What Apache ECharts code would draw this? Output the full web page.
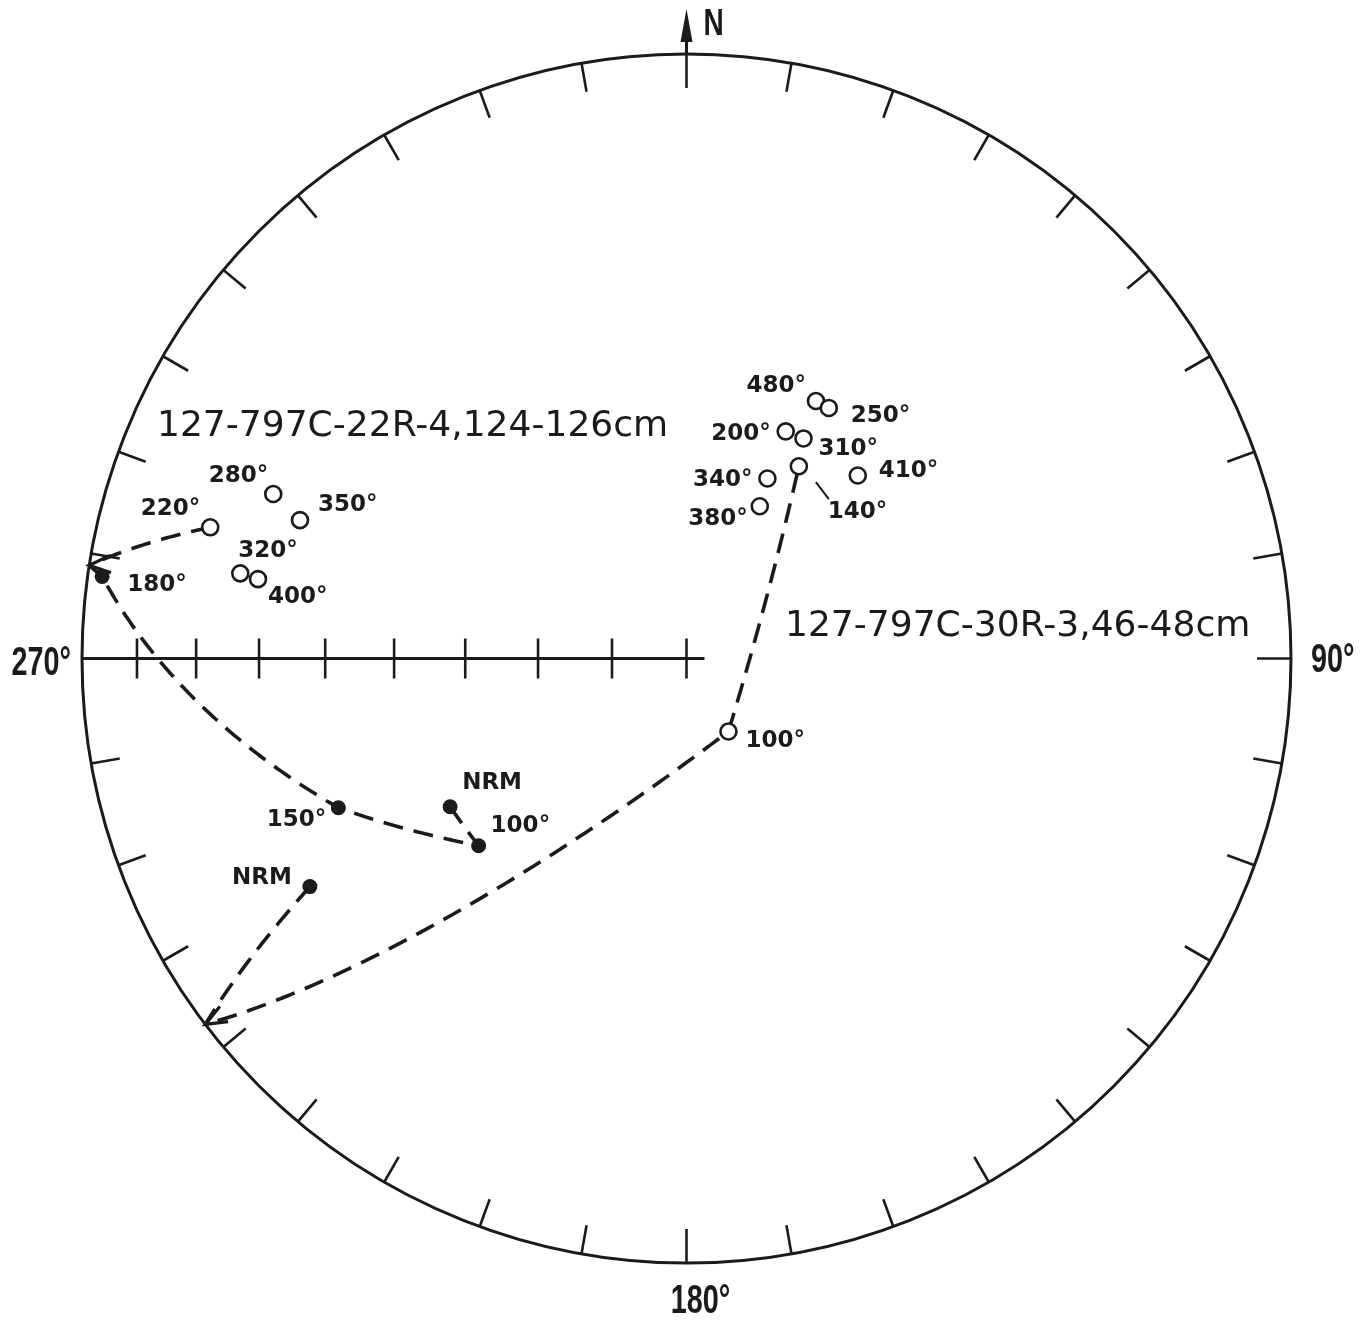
<!DOCTYPE html>
<html>
<head>
<meta charset="utf-8">
<script src="https://cdn.jsdelivr.net/npm/echarts@6/dist/echarts.min.js"></script>
<style>
  html, body { margin: 0; padding: 0; background: #fff; }
  #chart { width: 1369px; height: 1322px; }
</style>
</head>
<body>
<div id="chart"></div>
<script>
// demagnetisation steps, declination / inclination (deg), negative inc = upper hemisphere
var stepsA = ['NRM', '100°', '150°', '180°', '220°', '280°', '350°', '320°', '400°'];
var decA = [237.9, 228.0, 246.8, 278.0, 285.4, 291.7, 289.7, 280.8, 280.5];
var incA = [51.9, 51.8, 37.4, 2.7, -19.4, -27.3, -32.6, -25.8, -28.7];
var pathA = [0, 1, 2, 3, 4];

var stepsB = ['NRM', '100°', '140°', '200°', '310°', '480°', '250°', '340°', '380°', '410°'];
var decB = [238.8, 150.1, 30.3, 23.6, 28.0, 26.7, 29.6, 24.2, 25.7, 43.1];
var incB = [28.0, -78.7, -59.8, -56.3, -56.1, -50.6, -50.6, -63.3, -67.2, -55.9];
var pathB = [0, 1, 2];

var titleA = '127-797C-22R-4,124-126cm';
var titleB = '127-797C-30R-3,46-48cm';

// net ticks
var decTicks = [];
for (var d = 0; d < 360; d += 10) decTicks.push(d);
var incTicks = [10, 20, 30, 40, 50, 60, 70, 80, 90];
var cardDec = [0, 90, 180, 270];
var cardText = ['N', '90°', '180°', '270°'];

// label placement (pixel offsets from the point, text alignment)
var labelPosA = [[12, -24, 'left'], [12, -20, 'left'], [-12, 12, 'right'], [25, 9, 'left'], [-10, -18, 'right'],
                 [-5, -18, 'right'], [18, -15, 'left'], [-2, -22, 'left'], [10, 18, 'left']];
var labelPosB = [[-18, -9, 'right'], [17, 10, 'left'], [29, 46, 'left'], [-15, 3, 'right'], [15, 11, 'left'],
                 [-10, -15, 'right'], [22, 8, 'left'], [-15, 2, 'right'], [-12, 13, 'right'], [21, -4, 'left']];
var leaderB = [null, null, [17, 16, 30, 33], null, null, null, null, null, null, null];

var INK = '#1b1b1b';
var LABEL_FONT = 'bold 23px "DejaVu Sans", sans-serif';
var CARD_FONT = 'bold 40px "Liberation Sans", sans-serif';
var TITLE_FONT = '35px "DejaVu Sans", sans-serif';
var RAD = Math.PI / 180;

// N, E, Down unit vector
function toVec(dec, inc) {
  return [Math.cos(inc * RAD) * Math.cos(dec * RAD), Math.cos(inc * RAD) * Math.sin(dec * RAD), Math.sin(inc * RAD)];
}
// equal-area (Schmidt) projection, x = east, y = north
function project(v) {
  var n = Math.sqrt(v[0] * v[0] + v[1] * v[1] + v[2] * v[2]);
  var h = Math.sqrt(v[0] * v[0] + v[1] * v[1]);
  if (h < 1e-9) return [0, 0];
  var r = Math.sqrt(Math.max(0, 1 - Math.abs(v[2] / n)));
  return [r * v[1] / h, r * v[0] / h];
}
function projDI(dec, inc) { return project(toVec(dec, inc)); }
function slerp(a, b, t) {
  var dot = a[0] * b[0] + a[1] * b[1] + a[2] * b[2];
  var om = Math.acos(Math.max(-1, Math.min(1, dot)));
  if (om < 1e-6) return a.slice();
  var s = Math.sin(om), k1 = Math.sin((1 - t) * om) / s, k2 = Math.sin(t * om) / s;
  return [a[0] * k1 + b[0] * k2, a[1] * k1 + b[1] * k2, a[2] * k1 + b[2] * k2];
}

// great circle arcs between consecutive steps
function buildPath(decs, incs, order) {
  var pts = [], cross = [], n = 80;
  for (var k = 0; k < order.length - 1; k++) {
    var a = toVec(decs[order[k]], incs[order[k]]);
    var b = toVec(decs[order[k + 1]], incs[order[k + 1]]);
    var prev = null;
    for (var s = 0; s <= n; s++) {
      var v = slerp(a, b, s / n);
      if (prev && prev[2] * v[2] < 0) {
        var f = prev[2] / (prev[2] - v[2]);
        cross.push(pts.length);
        pts.push(project([prev[0] + (v[0] - prev[0]) * f, prev[1] + (v[1] - prev[1]) * f, 0]));
      }
      if (s > 0 || k === 0) pts.push(project(v));
      prev = v;
    }
  }
  return { pts: pts, cross: cross };
}

function arrowData(path) {
  return path.cross.map(function (i) {
    var tip = path.pts[i];
    function walk(step) {
      var j = i;
      while (j + step >= 0 && j + step < path.pts.length) {
        j += step;
        var q = path.pts[j];
        if (Math.hypot(q[0] - tip[0], q[1] - tip[1]) > 0.04) break;
      }
      return path.pts[j];
    }
    var lo = walk(-1), up = walk(1);
    return [tip[0], tip[1], lo[0], lo[1], up[0], up[1]];
  });
}

var pA = buildPath(decA, incA, pathA);
var pB = buildPath(decB, incB, pathB);
var arrows = arrowData(pA).concat(arrowData(pB));

function pointData(steps, decs, incs, pos, leader) {
  return steps.map(function (s, k) {
    var p = projDI(decs[k], incs[k]);
    return {
      value: [p[0], p[1]], name: s, pos: pos[k], leader: leader ? leader[k] : null,
      symbolSize: incs[k] < 0 ? 16 : 15,
      itemStyle: incs[k] < 0
        ? { color: '#fff', borderColor: INK, borderWidth: 2.6, opacity: 1 }
        : { color: INK, borderColor: INK, borderWidth: 0, opacity: 1 }
    };
  });
}
var ptsA = pointData(stepsA, decA, incA, labelPosA, null);
var ptsB = pointData(stepsB, decB, incB, labelPosB, leaderB);
var allPts = ptsA.concat(ptsB);

var chart = echarts.init(document.getElementById('chart'));

var option = {
  animation: false,
  backgroundColor: '#fff',
  grid: { left: 82, top: 54, width: 1209, height: 1209 },
  xAxis: { type: 'value', min: -1, max: 1, show: false },
  yAxis: { type: 'value', min: -1, max: 1, show: false },
  graphic: [
    { type: 'text', x: 157, y: 427, scaleX: 1.03, style: { text: titleA, font: TITLE_FONT, fill: INK, verticalAlign: 'middle' } },
    { type: 'text', x: 785, y: 627, scaleX: 1.03, style: { text: titleB, font: TITLE_FONT, fill: INK, verticalAlign: 'middle' } }
  ],
  series: [
    {
      // primitive circle
      type: 'custom', coordinateSystem: 'cartesian2d', silent: true, z: 1,
      data: [[0, 0]],
      renderItem: function (params, api) {
        var c = api.coord([0, 0]), e = api.coord([1, 0]);
        return { type: 'circle', shape: { cx: c[0], cy: c[1], r: e[0] - c[0] },
          style: { fill: 'none', stroke: INK, lineWidth: 3 } };
      }
    },
    {
      // declination ticks
      type: 'custom', coordinateSystem: 'cartesian2d', silent: true, z: 1,
      data: decTicks.map(function (d) { return projDI(d, 0).concat([d]); }),
      renderItem: function (params, api) {
        var p = api.coord([api.value(0), api.value(1)]), c = api.coord([0, 0]);
        var dx = c[0] - p[0], dy = c[1] - p[1], L = Math.sqrt(dx * dx + dy * dy);
        var len = api.value(2) % 90 === 0 ? 34 : 29;
        return { type: 'line', shape: { x1: p[0], y1: p[1], x2: p[0] + dx / L * len, y2: p[1] + dy / L * len },
          style: { stroke: INK, lineWidth: 2.6 } };
      }
    },
    {
      // inclination scale along the west radius
      type: 'custom', coordinateSystem: 'cartesian2d', silent: true, z: 1,
      data: incTicks.map(function (i) { return projDI(270, i).concat([i]); }),
      renderItem: function (params, api) {
        var p = api.coord([api.value(0), api.value(1)]);
        var kids = [{ type: 'line', shape: { x1: p[0], y1: p[1] - 20, x2: p[0], y2: p[1] + 20 },
          style: { stroke: INK, lineWidth: 2.6 } }];
        if (api.value(2) === 90) {
          var e = api.coord(projDI(270, 0));
          kids.push({ type: 'line', shape: { x1: e[0], y1: e[1], x2: p[0] + 18, y2: p[1] },
            style: { stroke: INK, lineWidth: 3 } });
        }
        return { type: 'group', children: kids };
      }
    },
    {
      // cardinal labels and north arrow
      type: 'custom', coordinateSystem: 'cartesian2d', silent: true, z: 1,
      data: cardDec.map(function (d, k) { return projDI(d, 0).concat([k]); }),
      renderItem: function (params, api) {
        var p = api.coord([api.value(0), api.value(1)]);
        var k = api.value(2);
        if (k === 0) {
          return { type: 'group', children: [
            { type: 'line', shape: { x1: p[0], y1: p[1], x2: p[0], y2: p[1] - 16 }, style: { stroke: INK, lineWidth: 3 } },
            { type: 'polygon', shape: { points: [[p[0], p[1] - 45], [p[0] - 6, p[1] - 12], [p[0] + 6, p[1] - 12]] }, style: { fill: INK } },
            { type: 'text', x: p[0] + 17, y: p[1] - 29, scaleX: 0.78,
              style: { text: cardText[k], x: 0, y: 0, font: 'bold 36px "Liberation Sans", sans-serif',
                fill: INK, align: 'left', verticalAlign: 'middle' } }
          ] };
        }
        var off = { 1: [20, 2, 'left'], 2: [14, 39, 'center'], 3: [-11, 5, 'right'] }[k];
        return { type: 'text', x: p[0] + off[0], y: p[1] + off[1], scaleX: 0.72,
          style: { text: cardText[k], x: 0, y: 0, font: CARD_FONT, fill: INK, align: off[2], verticalAlign: 'middle' } };
      }
    },
    {
      type: 'line', data: pA.pts, symbol: 'none', z: 2, silent: true,
      lineStyle: { color: INK, width: 3.6, type: [20, 11] }
    },
    {
      type: 'line', data: pB.pts, symbol: 'none', z: 2, silent: true,
      lineStyle: { color: INK, width: 3.6, type: [20, 11] }
    },
    {
      // open arrowheads where the path meets the primitive
      type: 'custom', coordinateSystem: 'cartesian2d', silent: true, z: 3,
      data: arrows,
      renderItem: function (params, api) {
        var t = api.coord([api.value(0), api.value(1)]);
        var lo = api.coord([api.value(2), api.value(3)]);
        var up = api.coord([api.value(4), api.value(5)]);
        function unit(q) { var dx = q[0] - t[0], dy = q[1] - t[1], L = Math.sqrt(dx * dx + dy * dy); return [dx / L, dy / L]; }
        var u1 = unit(lo), u2 = unit(up);
        var w = [0.3 * u1[0] + 0.7 * u2[0], 0.3 * u1[1] + 0.7 * u2[1]];
        var wl = Math.sqrt(w[0] * w[0] + w[1] * w[1]);
        w = [w[0] / wl, w[1] / wl];
        var a = 22 * RAD, len = 23;
        function rot(s) { return [t[0] + len * (w[0] * Math.cos(s) - w[1] * Math.sin(s)), t[1] + len * (w[0] * Math.sin(s) + w[1] * Math.cos(s))]; }
        return { type: 'polyline', shape: { points: [rot(a), t, rot(-a)] },
          style: { stroke: INK, lineWidth: 3.2, fill: 'none' } };
      }
    },
    {
      type: 'scatter', symbol: 'circle', z: 4, silent: true,
      itemStyle: { opacity: 1 },
      data: allPts
    },
    {
      // step labels
      type: 'custom', coordinateSystem: 'cartesian2d', silent: true, z: 5,
      data: allPts.map(function (p, k) { return [p.value[0], p.value[1], k]; }),
      renderItem: function (params, api) {
        var pt = allPts[api.value(2)];
        var c = api.coord([api.value(0), api.value(1)]);
        var kids = [{ type: 'text', style: { text: pt.name, x: c[0] + pt.pos[0], y: c[1] + pt.pos[1],
          font: LABEL_FONT, fill: INK, align: pt.pos[2], verticalAlign: 'middle' } }];
        if (pt.leader) {
          kids.push({ type: 'line', shape: { x1: c[0] + pt.leader[0], y1: c[1] + pt.leader[1], x2: c[0] + pt.leader[2], y2: c[1] + pt.leader[3] },
            style: { stroke: INK, lineWidth: 2 } });
        }
        return { type: 'group', children: kids };
      }
    }
  ]
};

chart.setOption(option);
</script>
</body>
</html>
